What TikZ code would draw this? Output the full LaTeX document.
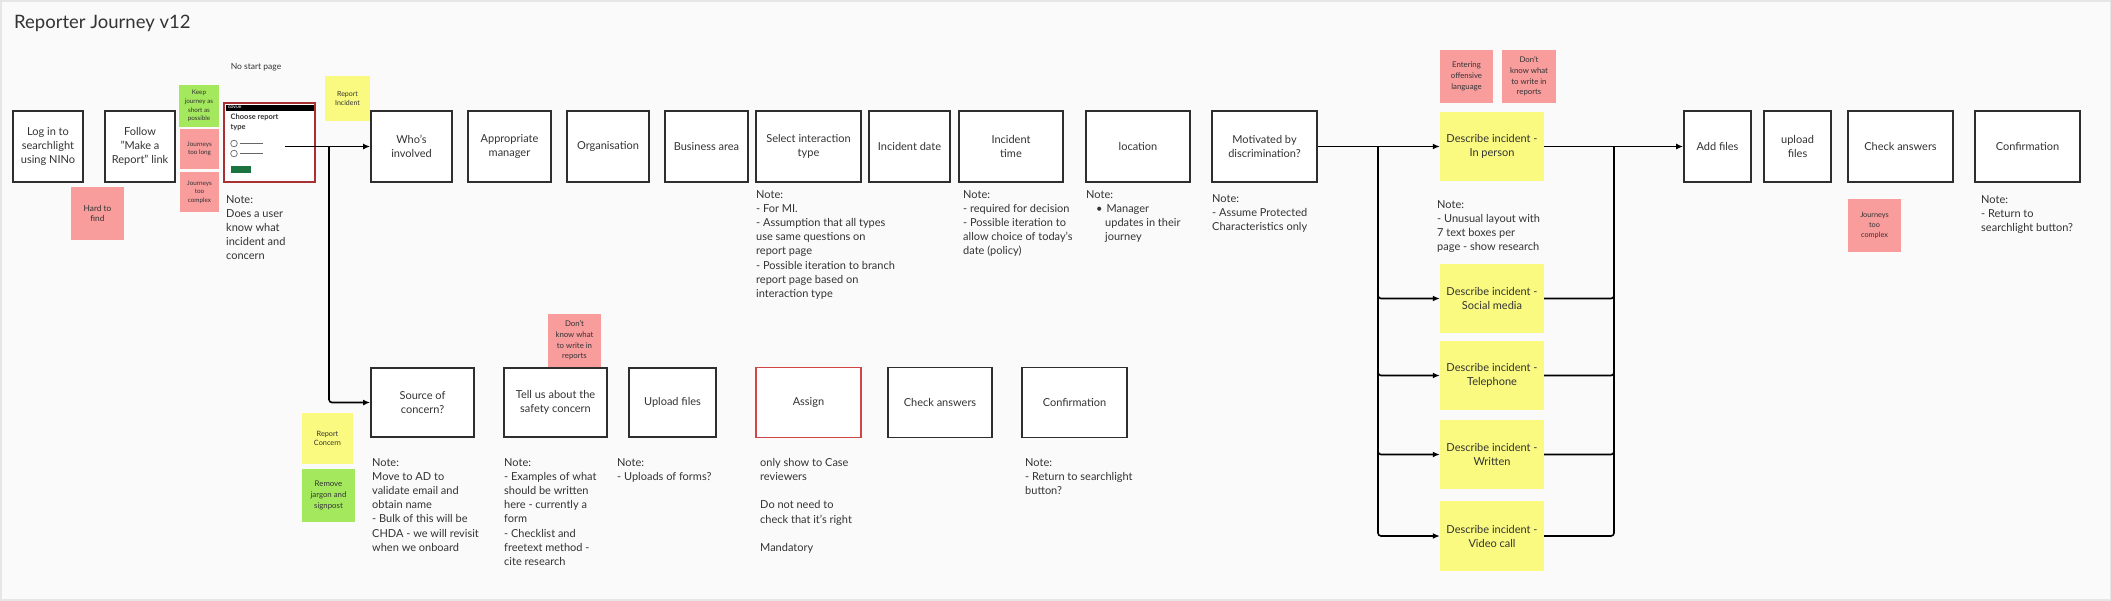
\documentclass[tikz,border=0pt]{standalone}
\usepackage{fontspec}
\setmainfont{Lato}
\usetikzlibrary{arrows.meta}
\definecolor{ink}{HTML}{333333}
\definecolor{boxc}{HTML}{2E2E2E}
\definecolor{bgc}{HTML}{FAFAFA}
\definecolor{framec}{HTML}{E6E6E6}
\definecolor{yel}{HTML}{FAFA80}
\definecolor{pink}{HTML}{F89C9C}
\definecolor{grn}{HTML}{A4E85E}
\definecolor{redb}{HTML}{D04545}
\definecolor{darkred}{HTML}{A83232}
\definecolor{govgreen}{HTML}{1B7340}
\tikzset{
  stepbox/.style={draw=boxc, line width=1.8pt, fill=white, align=center, text=ink,
    font=\fontsize{11}{14}\selectfont, inner sep=2pt},
  sticky/.style={inner sep=0pt, align=center, text=ink},
  descbox/.style={fill=yel, align=center, text=ink, font=\fontsize{11}{14}\selectfont,
    minimum width=104, inner sep=0pt},
  notetext/.style={anchor=north west, align=left, text=ink, inner sep=0pt,
    font=\fontsize{11}{14.2}\selectfont},
  conn/.style={draw=black, line width=1.6pt, -{Latex[length=7pt,width=6pt]}},
  busline/.style={draw=black, line width=1.6pt},
}
\begin{document}
\begin{tikzpicture}[x=1pt,y=-1pt]
\useasboundingbox (0,0) rectangle (2111,600);
\fill[bgc] (0,0) rectangle (2111,600);
\draw[framec, line width=3pt] (0,0) rectangle (2111,600);

\node[anchor=base west, text=ink, inner sep=0pt, font=\fontsize{18.5}{22}\selectfont] (title) at (14,28) {Reporter Journey v12};
\node[anchor=base, text=ink, inner sep=0pt, font=\fontsize{8.5}{10}\selectfont] (nostart) at (256,69) {No start page};

% ---------- top row ----------
\node[stepbox, minimum width=70, minimum height=71] (login) at (48,146.5) {Log in to\\searchlight\\using NINo};
\node[stepbox, minimum width=70, minimum height=71] (follow) at (140,146.5) {Follow\\"Make a\\Report" link};

\node[draw=darkred, line width=1.8pt, fill=white, minimum width=91, minimum height=79, inner sep=0pt] (choose) at (269.5,142.5) {};
\fill[black] (226,104.5) rectangle (314,110.5);
\node[anchor=west, text=white, inner sep=0pt, font=\fontsize{3.5}{4}\selectfont\bfseries] (govuk) at (228,107.6) {GOV.UK};
\node[anchor=north west, align=left, text=ink, inner sep=0pt, font=\fontsize{7.5}{10}\selectfont\bfseries] (choosetitle) at (230.5,114) {Choose report\\type};
\draw[gray!80!black, line width=0.7pt] (234,143.5) circle (3.3) (234,153.5) circle (3.3);
\draw[gray!80!black, line width=0.7pt] (240,143.5) -- (263,143.5) (240,153.5) -- (263,153.5);
\fill[govgreen] (230.5,165.5) rectangle (250.5,172.5);

\node[stepbox, minimum width=81, minimum height=71] (who) at (411.5,146.5) {Who's\\involved};
\node[stepbox, minimum width=83, minimum height=71] (manager) at (509.5,146.5) {Appropriate\\manager};
\node[stepbox, minimum width=82, minimum height=71] (org) at (608,146.5) {Organisation};
\node[stepbox, minimum width=83, minimum height=71] (business) at (706.5,146.5) {Business area};
\node[stepbox, minimum width=105, minimum height=71] (select) at (808.5,146.5) {Select interaction\\type};
\node[stepbox, minimum width=81, minimum height=71] (date) at (909.5,146.5) {Incident date};
\node[stepbox, minimum width=104, minimum height=71] (time) at (1011,146.5) {Incident\\time};
\node[stepbox, minimum width=104, minimum height=71] (location) at (1138,146.5) {location};
\node[stepbox, minimum width=105, minimum height=71] (motivated) at (1264.5,146.5) {Motivated by\\discrimination?};
\node[stepbox, minimum width=67, minimum height=71] (addfiles) at (1717.5,146.5) {Add files};
\node[stepbox, minimum width=67, minimum height=71] (upload) at (1797.5,146.5) {upload\\files};
\node[stepbox, minimum width=105, minimum height=71] (check) at (1900.5,146.5) {Check answers};
\node[stepbox, minimum width=105, minimum height=71] (confirm) at (2027.5,146.5) {Confirmation};

% describe incident boxes
\node[descbox, minimum height=69] (inperson) at (1492,146.5) {Describe incident -\\In person};
\node[descbox, minimum height=69] (social) at (1492,298.5) {Describe incident -\\Social media};
\node[descbox, minimum height=69] (telephone) at (1492,375.5) {Describe incident -\\Telephone};
\node[descbox, minimum height=69] (written) at (1492,454.5) {Describe incident -\\Written};
\node[descbox, minimum height=70] (video) at (1492,536) {Describe incident -\\Video call};

% ---------- bottom row ----------
\node[stepbox, minimum width=103, minimum height=69] (source) at (422.5,402.5) {Source of\\concern?};
\node[stepbox, minimum width=103, minimum height=69] (tellus) at (555.5,402.5) {Tell us about the\\safety concern};
\node[stepbox, minimum width=87, minimum height=69] (uploadb) at (672.5,402.5) {Upload files};
\node[stepbox, draw=redb, minimum width=105, minimum height=70] (assign) at (808.5,402.5) {Assign};
\node[stepbox, minimum width=104, minimum height=70] (checkb) at (940,402.5) {Check answers};
\node[stepbox, minimum width=105, minimum height=70] (confirmb) at (1074.5,402.5) {Confirmation};

% ---------- stickies ----------
\node[sticky, fill=grn, minimum width=40, minimum height=42, font=\fontsize{6.3}{8.6}\selectfont] (keep) at (199,106) {Keep\\journey as\\short as\\possible};
\node[sticky, fill=pink, minimum width=39, minimum height=40, font=\fontsize{6.3}{8.6}\selectfont] (toolong) at (199.5,149) {Journeys\\too long};
\node[sticky, fill=pink, minimum width=39, minimum height=40, font=\fontsize{6.3}{8.6}\selectfont] (toocomplex) at (199.5,192) {Journeys\\too\\complex};
\node[sticky, fill=yel, minimum width=45, minimum height=45, font=\fontsize{7}{9}\selectfont] (reportinc) at (347.5,98.5) {Report\\Incident};
\node[sticky, fill=pink, minimum width=53, minimum height=53, font=\fontsize{8.3}{10.7}\selectfont] (hard) at (97.5,213.5) {Hard to\\find};
\node[sticky, fill=pink, minimum width=53, minimum height=53, font=\fontsize{7.8}{10.7}\selectfont] (offensive) at (1466.5,76.5) {Entering\\offensive\\language};
\node[sticky, fill=pink, minimum width=54, minimum height=53, font=\fontsize{7.8}{10.7}\selectfont] (dontknowA) at (1529,76.5) {Don't\\know what\\to write in\\reports};
\node[sticky, fill=pink, minimum width=53, minimum height=53, font=\fontsize{7.8}{10.7}\selectfont] (dontknowB) at (574.5,340.5) {Don't\\know what\\to write in\\reports};
\node[sticky, fill=yel, minimum width=51, minimum height=51, font=\fontsize{7.3}{9.7}\selectfont] (reportconcern) at (327.5,438.5) {Report\\Concern};
\node[sticky, fill=grn, minimum width=53, minimum height=53, font=\fontsize{7.8}{10.7}\selectfont] (jargon) at (328.5,495.5) {Remove\\jargon and\\signpost};
\node[sticky, fill=pink, minimum width=53, minimum height=53, font=\fontsize{7.3}{10}\selectfont] (complexR) at (1874.5,225.5) {Journeys\\too\\complex};

% ---------- notes ----------
\node[notetext] (noteChoose) at (226,195) {Note:\\Does a user\\know what\\incident and\\concern};
\node[notetext] (noteSelect) at (756,190) {Note:\\- For MI.\\- Assumption that all types\\use same questions on\\report page\\- Possible iteration to branch\\report page based on\\interaction type};
\node[notetext] (noteTime) at (963,190) {Note:\\- required for decision\\- Possible iteration to\\allow choice of today's\\date (policy)};
\node[notetext] (noteLoc) at (1086,190) {Note:\\\hspace*{10pt}\textbullet\hspace{4pt}Manager\\\hspace*{19pt}updates in their\\\hspace*{19pt}journey};
\node[notetext] (noteMot) at (1212,194) {Note:\\- Assume Protected\\Characteristics only};
\node[notetext] (noteInp) at (1437,200) {Note:\\- Unusual layout with\\7 text boxes per\\page - show research};
\node[notetext] (noteConf) at (1981,195) {Note:\\- Return to\\searchlight button?};
\node[notetext] (noteSource) at (372,458) {Note:\\Move to AD to\\validate email and\\obtain name\\- Bulk of this will be\\CHDA - we will revisit\\when we onboard};
\node[notetext] (noteTell) at (504,458) {Note:\\- Examples of what\\should be written\\here - currently a\\form\\- Checklist and\\freetext method -\\cite research};
\node[notetext] (noteUpload) at (617,458) {Note:\\- Uploads of forms?};
\node[notetext] (noteAssign) at (760,458) {only show to Case\\reviewers\\[14.2pt]Do not need to\\check that it's right\\[14.2pt]Mandatory};
\node[notetext] (noteConfB) at (1025,458) {Note:\\- Return to searchlight\\button?};

% ---------- connectors ----------
\coordinate (chooseout) at (285,146.5);
\coordinate (branch) at (329,146.5);
\coordinate (lbus) at (1378,146.5);
\coordinate (rbus) at (1614,146.5);

\draw[conn] (chooseout) -- (who.west);
\draw[conn, rounded corners=3pt] (branch) |- (source.west);

\draw[conn] (motivated.east) -- (inperson.west);
\draw[conn, rounded corners=3pt] (lbus) |- (social.west);
\draw[conn, rounded corners=3pt] (lbus) |- (telephone.west);
\draw[conn, rounded corners=3pt] (lbus) |- (written.west);
\draw[conn, rounded corners=3pt] (lbus) |- (video.west);

\draw[busline, rounded corners=3pt] (social.east) -| (rbus);
\draw[busline, rounded corners=3pt] (telephone.east) -| (rbus);
\draw[busline, rounded corners=3pt] (written.east) -| (rbus);
\draw[busline, rounded corners=3pt] (video.east) -| (rbus);
\draw[conn] (inperson.east) -- (addfiles.west);
\end{tikzpicture}
\end{document}
